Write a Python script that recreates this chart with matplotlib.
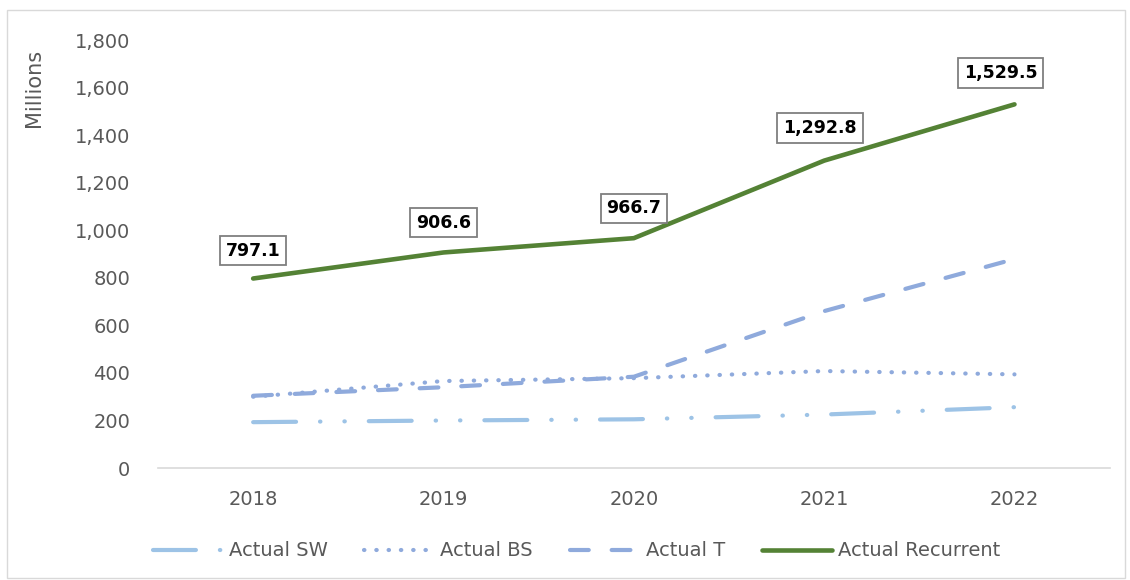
import matplotlib.pyplot as plt
from matplotlib.patches import Rectangle

anos = ['2018', '2019', '2020', '2021', '2022']
actual_sw = [193, 200, 205, 225, 256]
actual_bs = [300, 366, 378, 408, 394]
actual_t = [304, 340, 384, 660, 879]
actual_recurrent = [797.1, 906.6, 966.7, 1292.8, 1529.5]

plt.rcParams['font.family'] = ['DejaVu Sans']
cinza = '#595959'

fig = plt.figure(figsize=(11.3, 5.8), dpi=100)
ax = fig.add_axes([0.1398, 0.193, 0.8422, 0.738])

x = range(len(anos))
ax.plot(x, actual_sw, color='#9DC3E6', lw=3, dash_capstyle='round',
        dashes=(10.3, 5.75, 0.1, 5.75, 0.1, 5.75), label='Actual SW')
ax.plot(x, actual_bs, color='#8FAADC', lw=3, dash_capstyle='round',
        dashes=(0.1, 2.85), label='Actual BS')
ax.plot(x, actual_t, color='#8FAADC', lw=3, dash_capstyle='round',
        dashes=(4.5, 5.5), label='Actual T')
ax.plot(x, actual_recurrent, color='#548235', lw=3.3, solid_capstyle='round',
        label='Actual Recurrent')

# rotulos da serie principal
deslocamentos = [(0, 20), (0, 21.5), (0, 21.5), (-3, 23.5), (-10, 22.5)]
for i, v in enumerate(actual_recurrent):
    ax.annotate(f'{v:,.1f}', (i, v), xytext=deslocamentos[i], textcoords='offset points',
                ha='center', va='center', fontsize=12.5, fontweight='bold', color='black',
                bbox=dict(boxstyle='square,pad=0.33', fc='white', ec='#7f7f7f', lw=1.3))

ax.set_xlim(-0.5, len(anos) - 0.5)
ax.set_ylim(0, 1800)
ax.set_yticks(range(0, 1801, 200))
ax.set_yticklabels([f'{t:,}' for t in range(0, 1801, 200)])
ax.set_xticks(list(x))
ax.set_xticklabels(anos)
ax.tick_params(labelsize=14, colors=cinza, length=0)
ax.tick_params(axis='y', pad=20)
ax.tick_params(axis='x', pad=16)
for lado in ['top', 'right', 'left']:
    ax.spines[lado].set_visible(False)
ax.spines['bottom'].set_color('#d9d9d9')
ax.spines['bottom'].set_linewidth(1.2)
ax.set_ylabel('Millions', fontsize=15, color=cinza)
ax.yaxis.set_label_coords(-0.120, 0.888)

fig.legend(loc='center', bbox_to_anchor=(0.51, 0.05), ncol=4, frameon=False,
           fontsize=14, labelcolor=cinza, handlelength=3.6, columnspacing=1.9,
           handletextpad=0.3)

fig.add_artist(Rectangle((0.006, 0.003), 0.99, 0.98, transform=fig.transFigure,
                         fill=False, ec='#d9d9d9', lw=1))

fig.savefig('out.png', dpi=100)
